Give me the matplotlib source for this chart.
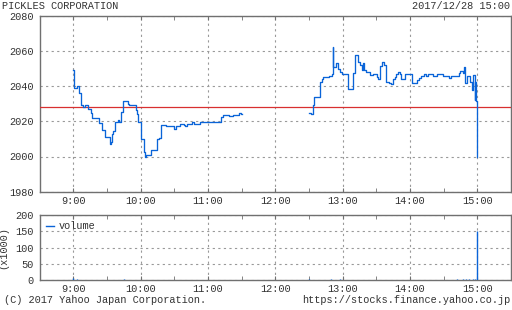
import numpy as np
import matplotlib.pyplot as plt
from matplotlib.lines import Line2D

# --- data (minutes after 9:00) ---
am_minutes = [0, 0.5, 3.6, 5.3, 7.1, 8.9, 10.7, 13.3, 16, 17.2, 19, 23.1, 26, 28.4, 32.6, 33.5,
              34.4, 35.6, 37.3, 40, 40.9, 42.7, 44.4, 49.2, 49.8, 55.7, 56.9, 58, 60.3, 62.8,
              64, 65.2, 69.3, 74.4, 76.1, 78.2, 82.4, 89.8, 91.9, 94.8, 98.4, 99.6, 101.3,
              105.5, 107.3, 113.2, 131.6, 133.3, 138.7, 142.2, 147.6, 149.3, 150]
am_price = [2049, 2039, 2040, 2036, 2029, 2028, 2029, 2027, 2025, 2022, 2022, 2019, 2015, 2011,
            2007, 2008, 2013, 2014.5, 2019.6, 2021, 2019.8, 2025.3, 2031.6, 2030, 2029, 2026.3,
            2024.4, 2019.8, 2010, 2002.5, 2000, 2001, 2003.8, 2009.7, 2010.5, 2017.7, 2017.1,
            2015.8, 2017.1, 2018.7, 2018, 2017.1, 2018.7, 2019.6, 2018.3, 2019.8, 2022.5,
            2023.8, 2022.9, 2023.8, 2025, 2024, 2024]

pm_minutes = [210, 211.8, 213.9, 214.7, 219.8, 221.3, 222.8, 227.8, 230.2, 231.1, 231.7, 234,
              236.1, 237.9, 239.7, 244.4, 249.5, 251.2, 253.3, 255.4, 257.2, 258.4, 259, 261,
              264.3, 267.3, 270.2, 271.4, 273.2, 275, 276.8, 278.5, 281.5, 283.3, 284.5, 286.3,
              288, 289.2, 291, 292.2, 295.8, 301.7, 306.4, 308.2, 310, 312.4, 314.7, 316.5,
              320.7, 324.2, 329, 334.9, 336.7, 343.8, 344.4, 346.8, 348, 349.2, 350.9, 353.3,
              355.1, 356.3, 357.5, 358.1, 358.7, 360]
pm_price = [2025, 2024, 2029, 2034, 2042.5, 2043.8, 2045, 2046, 2046.7, 2062, 2051, 2053, 2049.5,
            2048, 2046.7, 2038.1, 2047.2, 2057.7, 2053.9, 2052, 2049, 2053, 2049, 2047.8, 2046.3,
            2046.7, 2045, 2043.8, 2051.4, 2053.9, 2052, 2042.5, 2041.9, 2041, 2043.8, 2045,
            2046.7, 2047.8, 2046.7, 2043.8, 2046.7, 2041.5, 2043.4, 2044.4, 2045.7, 2046.7,
            2045.7, 2046.7, 2046, 2046.7, 2046, 2044.4, 2046, 2047.2, 2048.8, 2047.2, 2050.7,
            2042, 2046, 2042.5, 2038, 2046.3, 2032, 2042.5, 2031.6, 2000]

prev_close = 2028

vol_minutes = [0, 3, 8, 15, 22, 30, 38, 45, 52, 60, 66, 75, 85, 95, 105, 115, 125, 135, 145,
               210, 215, 222, 230, 238, 245, 255, 265, 275, 285, 295, 305, 315, 325, 335,
               342, 347, 350, 353, 356, 358, 360]
vol_k = [5, 2, 1, 1.5, 1, 1, 1, 2, 1, 1.5, 1, 1, 1, 1, 1, 1, 1, 1, 1,
         3, 1.5, 1.5, 3, 2, 1.5, 1, 1.5, 1, 1, 1.5, 1, 1, 1.5, 1,
         2, 2, 2.5, 2, 2, 2.5, 150]

hour_ticks = [0, 60, 120, 180, 240, 300, 360]
hour_labels = ['9:00', '10:00', '11:00', '12:00', '13:00', '14:00', '15:00']
half_ticks = [30, 90, 150, 210, 270, 330]

blue = '#0a64d8'
red = '#d83030'
gray = '#707070'
txt = '#333333'
plt.rcParams['font.family'] = ['Liberation Mono', 'DejaVu Sans Mono']
fs = 7.4

fig = plt.figure(figsize=(5.12, 3.10), dpi=100)
ax = fig.add_axes([39.5 / 512, 1 - 191.7 / 310, 471.5 / 512, 176 / 310])
ax2 = fig.add_axes([39.5 / 512, 1 - 280 / 310, 471.5 / 512, 65 / 310])


def style(a):
    a.set_xlim(-30, 390)
    for s in a.spines.values():
        s.set_color(gray)
        s.set_linewidth(1)
    a.set_xticks(hour_ticks)
    a.set_xticklabels(hour_labels)
    a.set_xticks(half_ticks, minor=True)
    a.tick_params(axis='x', which='both', direction='in', top=True, length=3, color=gray,
                  labelsize=fs, labelcolor=txt, pad=3)
    a.tick_params(axis='y', length=0, labelsize=fs, labelcolor=txt, pad=4)
    a.grid(True, color='#999999', linestyle=(0, (2, 3)), linewidth=0.8)


# price panel
style(ax)
ax.set_ylim(1980, 2080)
ax.set_yticks([1980, 2000, 2020, 2040, 2060, 2080])
ax.axhline(prev_close, color=red, linewidth=0.9, zorder=3)
ax.plot(am_minutes, am_price, drawstyle='steps-post', color=blue, linewidth=0.95, zorder=4)
ax.plot(pm_minutes, pm_price, drawstyle='steps-post', color=blue, linewidth=0.95, zorder=4)

# volume panel
style(ax2)
ax2.set_ylim(0, 200)
ax2.set_yticks([0, 50, 100, 150, 200])
ax2.vlines(vol_minutes, 0, vol_k, color=blue, linewidth=1, zorder=4)
ax2.set_ylabel('(x1000)', fontsize=fs, color=txt, labelpad=5)
ax2.legend([Line2D([0], [0], color=blue, lw=1)], ['volume'], loc='upper left', frameon=False,
           fontsize=fs, handlelength=0.8, handletextpad=0.5, borderaxespad=0.2,
           labelcolor=txt)

fig.text(2 / 512, 1 - 6 / 310, 'PICKLES CORPORATION', fontsize=fs, color=txt, va='center')
fig.text(510 / 512, 1 - 6 / 310, '2017/12/28 15:00', fontsize=fs, color=txt, va='center', ha='right')
fig.text(4 / 512, 1 - 300 / 310, '(C) 2017 Yahoo Japan Corporation.', fontsize=fs, color=txt, va='center')
fig.text(510 / 512, 1 - 300 / 310, 'https://stocks.finance.yahoo.co.jp', fontsize=fs, color=txt,
         va='center', ha='right')

fig.savefig('out.png', dpi=100)
